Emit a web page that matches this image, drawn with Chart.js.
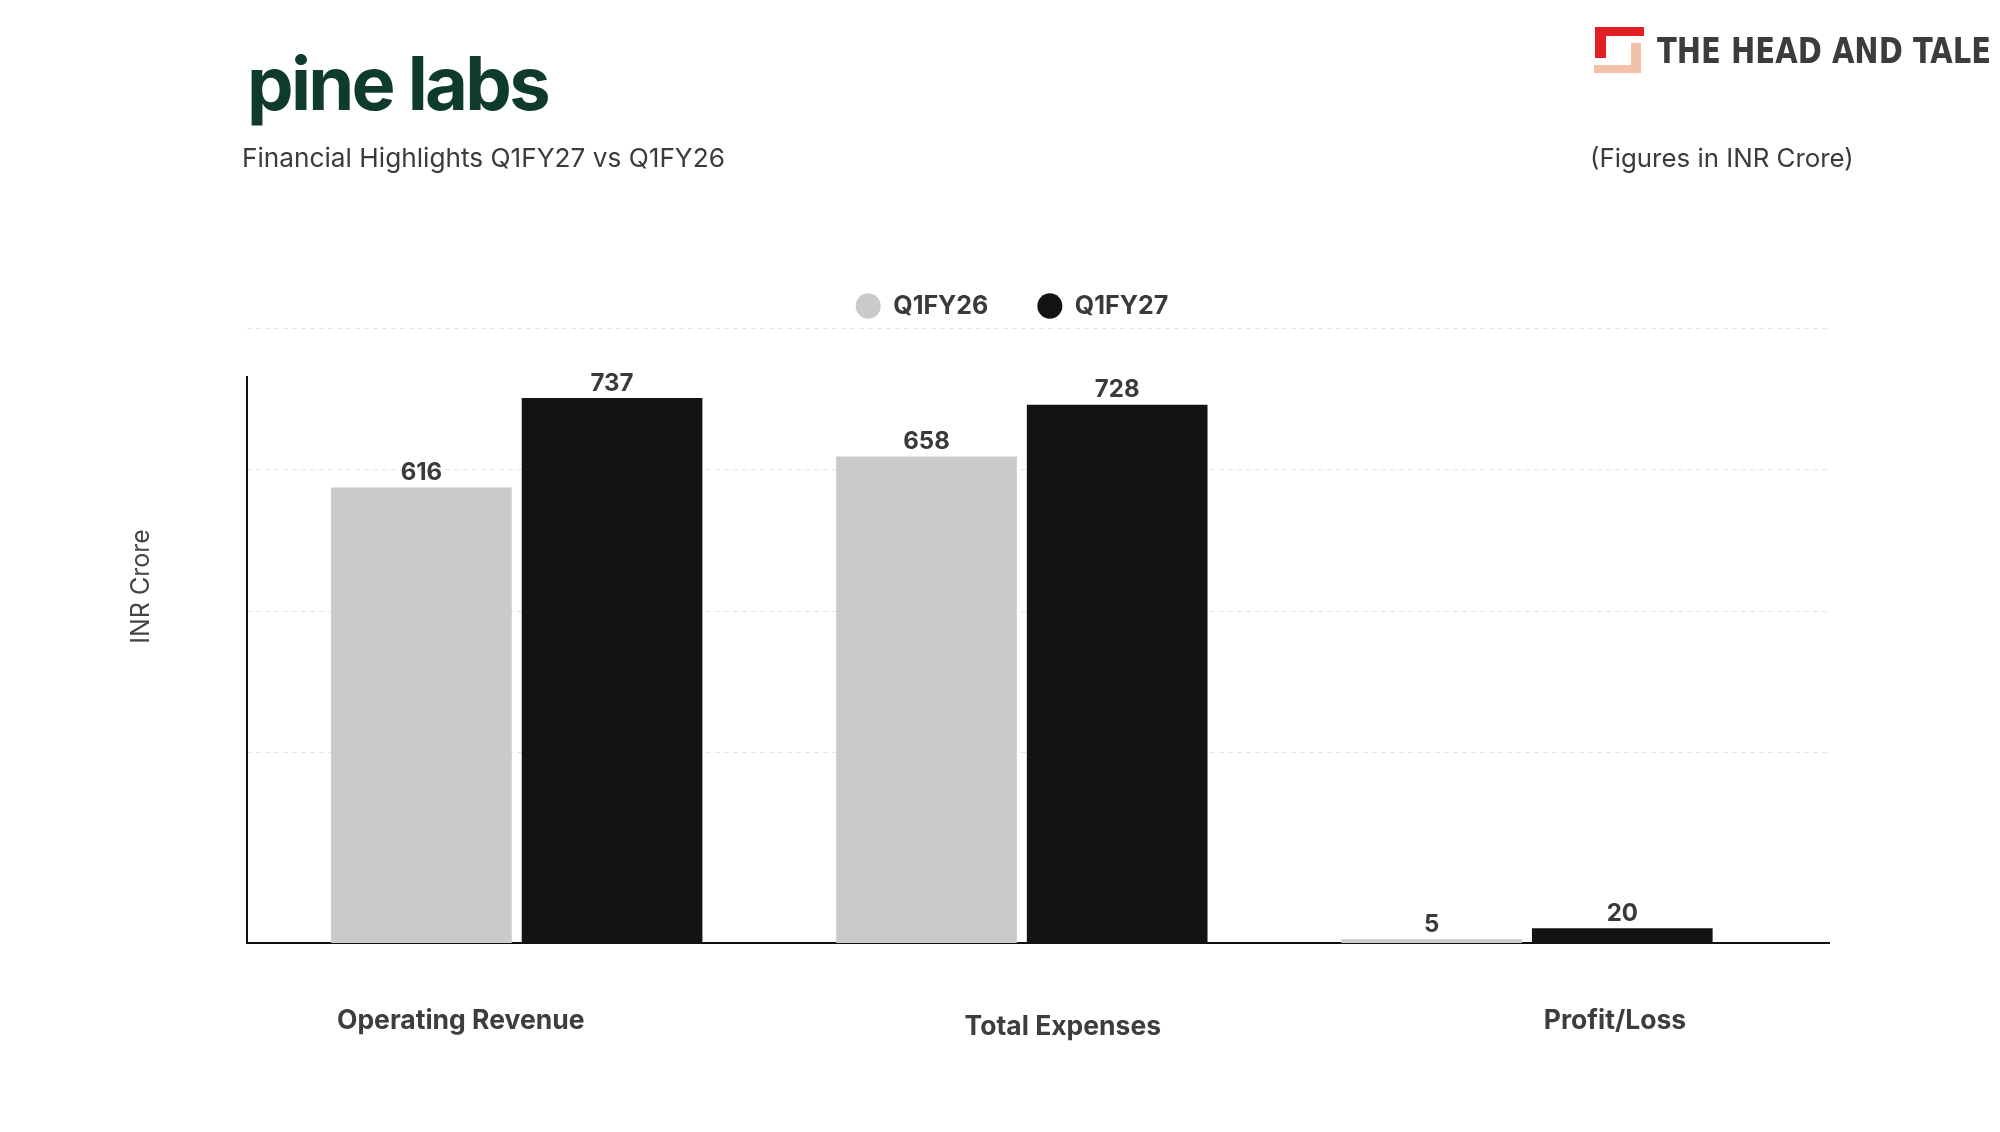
<!DOCTYPE html>
<html>
<head>
<meta charset="utf-8">
<script src="https://cdn.jsdelivr.net/npm/chart.js@4.4.1/dist/chart.umd.min.js"></script>
<style>
  html, body { margin: 0; padding: 0; background: #ffffff; }
  #page { position: relative; width: 2000px; height: 1132px; overflow: hidden; font-family: Inter, "Noto Sans", sans-serif; }
  #wrap { position: absolute; left: 0; top: 0; width: 2000px; height: 1132px; }
  .t { position: absolute; white-space: nowrap; line-height: 1; top: 0; }
  .blk { position: absolute; }
</style>
</head>
<body>
<div id="page">
  <div id="wrap"><canvas id="c"></canvas></div>
  <div id="logo" class="t" style="left:247px;font-size:74px;font-weight:700;color:#0f3b2b;">pine labs</div>
  <div id="sub" class="t" style="left:242px;font-size:25px;font-weight:400;color:#3b3b3b;">Financial Highlights Q1FY27 vs Q1FY26</div>
  <div id="fig" class="t" style="left:1590px;font-size:25px;font-weight:400;color:#3b3b3b;">(Figures in INR Crore)</div>
  <div id="brand" class="t" style="left:1657px;font-size:35px;font-weight:700;color:#3d3b3b;font-family:'Liberation Sans Narrow','DejaVu Sans Condensed','Liberation Sans',sans-serif;transform-origin:0 0;">THE HEAD AND TALE</div>
  <div class="blk" style="left:1595px;top:27px;width:49px;height:9px;background:#e11f25;"></div>
  <div class="blk" style="left:1595px;top:27px;width:11px;height:31px;background:#e11f25;"></div>
  <div class="blk" style="left:1631px;top:43px;width:10px;height:30px;background:#f3c0a8;"></div>
  <div class="blk" style="left:1594px;top:65px;width:47px;height:8px;background:#f3c0a8;"></div>
</div>
<script>
// ---- data ----
const categories = ['Operating Revenue', 'Total Expenses', 'Profit/Loss'];
const seriesNames = ['Q1FY26', 'Q1FY27'];
const q1fy26 = [616, 658, 5];
const q1fy27 = [737, 728, 20];
const yAxisTitle = 'INR Crore';

// ---- header text placement ----
function place(id, baseline, width, mode) {
  const el = document.getElementById(id);
  if (width) {
    const w = el.getBoundingClientRect().width;
    if (mode === 'scale') {
      el.style.transform = 'scaleX(' + (width / w) + ')';
    } else if (mode === 'spacing') {
      const n = el.textContent.length;
      el.style.letterSpacing = ((width - w) / n) + 'px';
    } else {
      el.style.fontSize = (parseFloat(getComputedStyle(el).fontSize) * width / w) + 'px';
    }
  }
  const m = document.createElement('span');
  m.style.cssText = 'display:inline-block;width:0;height:0;vertical-align:baseline;';
  el.appendChild(m);
  const b = m.getBoundingClientRect().top;
  el.style.top = (baseline - b) + 'px';
}
place('logo', 110, 301, 'spacing');
place('sub', 166.7, 483, 'font');
place('fig', 166.7, 264, 'font');
place('brand', 62.7, 334, 'scale');

// ---- chart ----
Chart.defaults.font.family = 'Inter, "Noto Sans", sans-serif';

const labelShift = [-56, 41, 88];
const labelDrop = [86, 92, 86];

const customDraw = {
  id: 'customDraw',
  afterDatasetsDraw(chart) {
    const ctx = chart.ctx;
    ctx.save();
    ctx.font = '700 24px Inter';
    ctx.fillStyle = '#3a3a3a';
    ctx.textAlign = 'center';
    ctx.textBaseline = 'alphabetic';
    chart.data.datasets.forEach((ds, di) => {
      chart.getDatasetMeta(di).data.forEach((bar, i) => {
        ctx.fillText(String(ds.data[i].y), bar.x, bar.y - 7.5);
      });
    });
    ctx.restore();
  },
  afterDraw(chart) {
    const {ctx, chartArea, scales} = chart;
    ctx.save();
    // y axis line
    ctx.strokeStyle = '#111111';
    ctx.lineWidth = 2;
    ctx.beginPath();
    ctx.moveTo(chartArea.left, chartArea.top + 47.5);
    ctx.lineTo(chartArea.left, chartArea.bottom);
    ctx.stroke();
    // category labels
    ctx.font = '700 26.5px Inter';
    ctx.fillStyle = '#3d3d3d';
    ctx.textAlign = 'center';
    ctx.textBaseline = 'alphabetic';
    categories.forEach((c, i) => {
      ctx.fillText(c, scales.x.getPixelForValue(i) + labelShift[i], chartArea.bottom + labelDrop[i]);
    });
    // y axis title
    ctx.font = '400 25px Inter';
    ctx.fillStyle = '#444444';
    ctx.translate(149, 586.5);
    ctx.rotate(-Math.PI / 2);
    ctx.fillText(yAxisTitle, 0, 0);
    ctx.restore();
  }
};

new Chart(document.getElementById('c'), {
  type: 'bar',
  data: {
    datasets: [
      {
        label: seriesNames[0],
        data: q1fy26.map((v, i) => ({x: i, y: v})),
        backgroundColor: '#cbc9c9',
        borderWidth: 0
      },
      {
        label: seriesNames[1],
        data: q1fy27.map((v, i) => ({x: i, y: v})),
        backgroundColor: '#131313',
        borderWidth: 0
      }
    ]
  },
  options: {
    responsive: true,
    maintainAspectRatio: false,
    animation: false,
    events: [],
    categoryPercentage: 0.755,
    barPercentage: 0.9476,
    layout: { padding: { left: 195, right: 171, top: 244.5, bottom: 189 } },
    plugins: {
      tooltip: { enabled: false },
      legend: {
        position: 'top',
        align: 'center',
        labels: {
          usePointStyle: true,
          pointStyle: 'circle',
          boxHeight: 18,
          pointStyleWidth: 25,
          padding: 49,
          color: '#3a3a3a',
          font: { size: 25, weight: '700', family: 'Inter' }
        }
      }
    },
    scales: {
      x: {
        type: 'linear',
        offset: false,
        min: -0.534,
        max: 2.598,
        afterBuildTicks: (s) => { s.ticks = categories.map((_, i) => ({value: i})); },
        ticks: { display: false },
        grid: { display: false, drawTicks: false, offset: false },
        border: { display: true, color: '#111111', width: 2 }
      },
      y: {
        type: 'linear',
        position: 'left',
        min: 0,
        max: 831,
        ticks: { display: false },
        grid: { display: false, drawTicks: false },
        border: { display: false },
        afterFit: (s) => { s.width = 52; }
      },
      grid2: {
        type: 'linear',
        position: 'right',
        axis: 'y',
        min: -0.35,
        max: 4,
        afterBuildTicks: (s) => { s.ticks = [1, 2, 3, 4].map(v => ({value: v})); },
        ticks: { display: false },
        grid: { display: true, drawTicks: false, color: '#e4e4e4', lineWidth: 1 },
        border: { display: false, dash: [5, 4] },
        afterFit: (s) => { s.width = 0; }
      }
    }
  },
  plugins: [customDraw]
});
</script>
</body>
</html>
